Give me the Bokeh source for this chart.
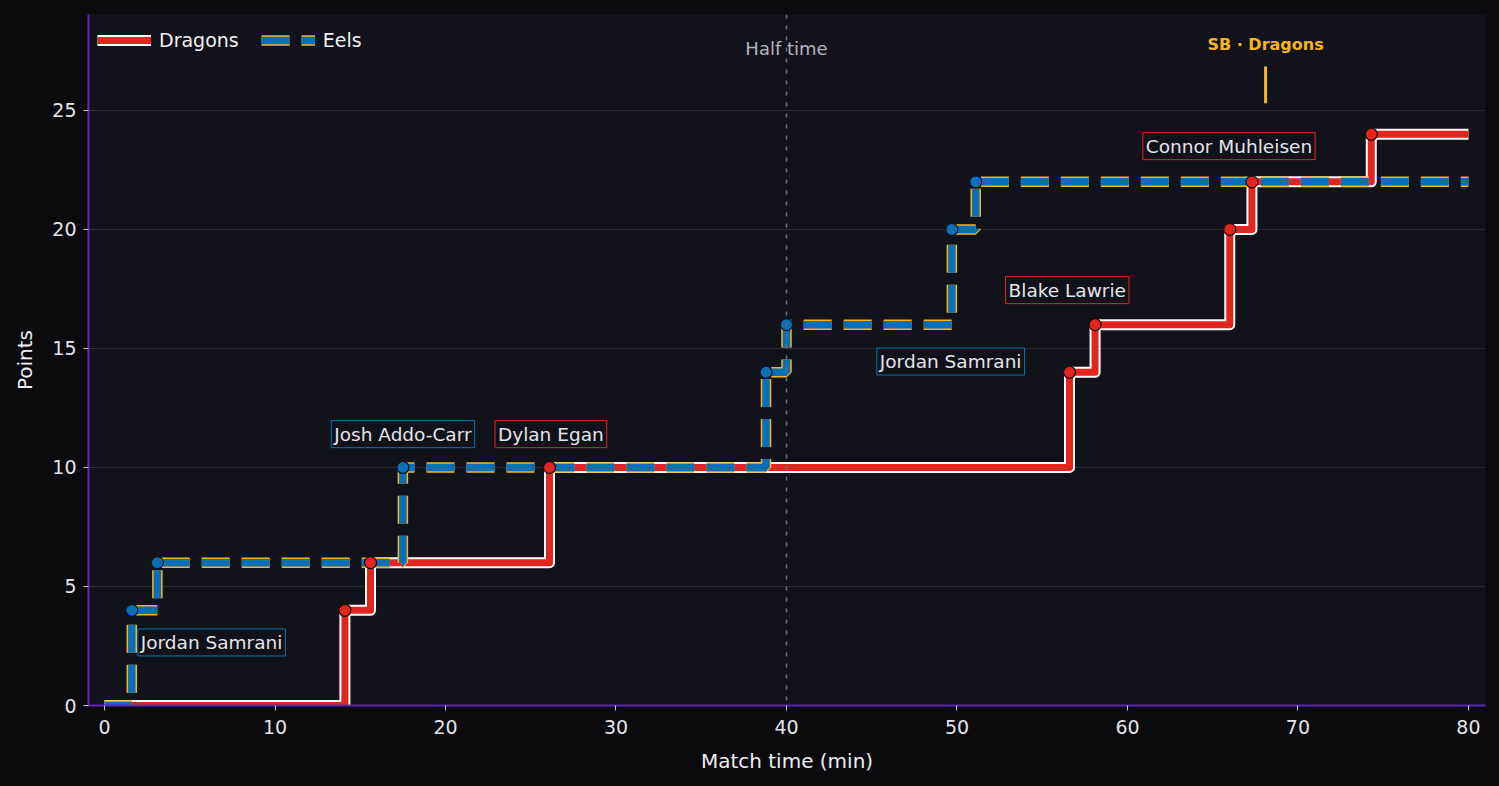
from bokeh.plotting import figure
from bokeh.models import Legend, LegendItem, Label, Span, Range1d, FixedTicker
from bokeh.embed import file_html
from bokeh.resources import INLINE

# scoring timeline (minute, running score)
dragons_min = [0, 14.1, 15.6, 26.1, 56.6, 58.1, 66.0, 67.3, 74.3, 80]
dragons_pts = [0, 4, 6, 10, 14, 16, 20, 22, 24, 24]
eels_min = [0, 1.6, 3.1, 17.5, 38.8, 40.0, 49.7, 51.1, 80]
eels_pts = [0, 4, 6, 10, 14, 16, 20, 22, 22]

# try scorers annotations
scorer_names = ["Jordan Samrani", "Josh Addo-Carr", "Dylan Egan", "Jordan Samrani",
                "Blake Lawrie", "Connor Muhleisen"]
scorer_team = ["Eels", "Eels", "Dragons", "Eels", "Dragons", "Dragons"]
scorer_x = [1.95, 13.3, 22.9, 45.3, 52.85, 60.9]
scorer_y = [2.65, 11.4, 11.4, 14.45, 17.45, 23.5]

sinbin_min = 68.1
sinbin_text = "SB \u00b7 Dragons"

RED = "#e2261f"
BLUE = "#0a6fb4"
GOLD = "#f6b51e"
BG = "#0b0b0e"
PANEL = "#12131a"
FONT = "DejaVu Sans"

p = figure(width=1499, height=786, output_backend="svg", toolbar_location=None,
           x_range=Range1d(-0.94, 81.0), y_range=Range1d(0, 29.03),
           x_axis_label="Match time (min)", y_axis_label="Points",
           min_border_left=88, min_border_right=14, min_border_top=14, min_border_bottom=81)
p.background_fill_color = PANEL
p.border_fill_color = BG
p.outline_line_color = None

p.xgrid.grid_line_color = None
p.ygrid.grid_line_color = "#2b2c31"
p.ygrid.grid_line_width = 1

p.xaxis.ticker = FixedTicker(ticks=[0, 10, 20, 30, 40, 50, 60, 70, 80])
p.yaxis.ticker = FixedTicker(ticks=[0, 5, 10, 15, 20, 25])
for ax in (p.xaxis, p.yaxis):
    ax.axis_line_color = "#5b27bd"
    ax.axis_line_width = 2
    ax.major_tick_line_color = "#c8c8cc"
    ax.major_tick_out = 5
    ax.major_tick_in = 0
    ax.minor_tick_line_color = None
    ax.major_label_text_color = "#e4e4e8"
    ax.major_label_text_font = FONT
    ax.major_label_text_font_size = "19px"
    ax.axis_label_text_color = "#eeeef2"
    ax.axis_label_text_font = FONT
    ax.axis_label_text_font_size = "20px"
    ax.axis_label_text_font_style = "normal"
p.xaxis.major_label_standoff = 9
p.yaxis.major_label_standoff = 7
p.yaxis.axis_label_standoff = 12
p.xaxis.axis_label_standoff = 12

# half time marker
p.add_layout(Span(location=40, dimension="height", line_color="#6c6c7a",
                  line_width=1.5, line_dash="4 7"))
p.add_layout(Label(x=40, y=27.6, text="Half time", text_align="center",
                   text_baseline="middle", text_color="#b4b4bc",
                   text_font=FONT, text_font_size="18px"))

# sin bin marker
p.segment(x0=[sinbin_min], y0=[25.3], x1=[sinbin_min], y1=[26.85],
          line_color=GOLD, line_width=3)
p.add_layout(Label(x=sinbin_min, y=27.77, text=sinbin_text, text_align="center",
                   text_baseline="middle", text_color=GOLD, text_font=FONT,
                   text_font_size="16px", text_font_style="bold"))

# Dragons: white casing under red step
d_case = p.step(dragons_min, dragons_pts, mode="after", line_color="white",
                line_width=11, line_join="round")
d_line = p.step(dragons_min, dragons_pts, mode="after", line_color=RED,
                line_width=7, line_join="round")

# Eels: gold casing under blue dashed step
e_case = p.step(eels_min, eels_pts, mode="after", line_color=GOLD,
                line_width=10.5, line_dash="28 12")
e_line = p.step(eels_min, eels_pts, mode="after", line_color=BLUE,
                line_width=7.5, line_dash="28 12")

p.scatter(dragons_min[1:-1], dragons_pts[1:-1], size=12, fill_color=RED,
          line_color="#1a0a0a", line_width=1.2)
p.scatter(eels_min[1:-1], eels_pts[1:-1], size=12, fill_color=BLUE,
          line_color="#0a1220", line_width=1.2)

for name, team, lx, ly in zip(scorer_names, scorer_team, scorer_x, scorer_y):
    p.add_layout(Label(x=lx, y=ly, text=name, text_align="left",
                       text_baseline="middle", text_color="#e4e4ea",
                       text_font=FONT, text_font_size="18.5px",
                       background_fill_color=PANEL, background_fill_alpha=0.9,
                       border_line_color=RED if team == "Dragons" else BLUE,
                       border_line_width=1, padding=3))

legend = Legend(items=[LegendItem(label="Dragons", renderers=[d_case, d_line]),
                       LegendItem(label="Eels", renderers=[e_case, e_line])],
                location="top_left", orientation="horizontal",
                background_fill_alpha=0, border_line_color=None,
                label_text_color="#f0f0f4", label_text_font=FONT,
                label_text_font_size="19px", glyph_width=54, glyph_height=34,
                label_height=34, label_standoff=8, spacing=22, margin=8, padding=3)
legend.margin = 9
p.add_layout(legend)

html = file_html(p, INLINE).replace("<body>", '<body style="background:#0b0b0e">')
open("out.html", "w").write(html)
